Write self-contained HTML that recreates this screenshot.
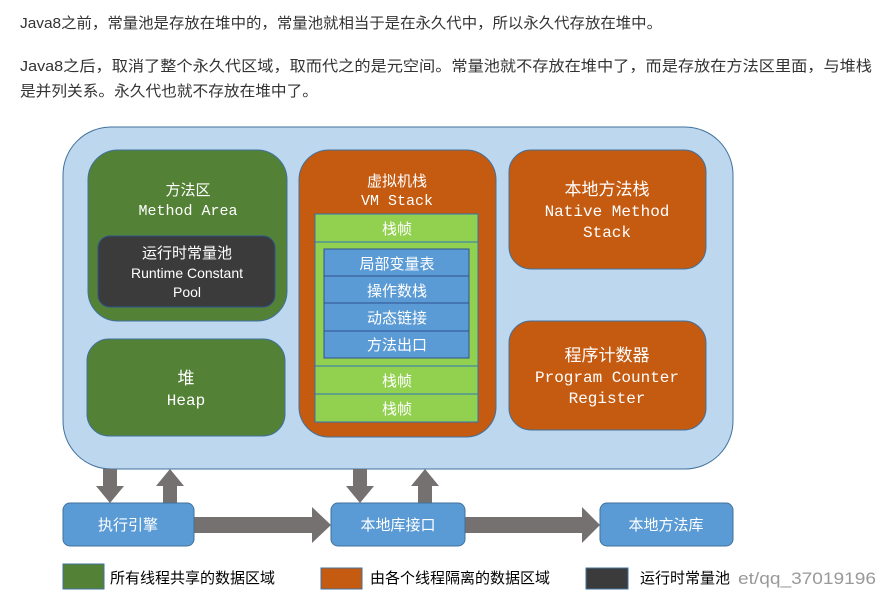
<!DOCTYPE html>
<html><head><meta charset="utf-8"><style>
html,body{margin:0;padding:0;background:#fff;width:887px;height:598px;overflow:hidden}
svg{display:block}
text{font-family:"Liberation Sans","Noto Sans CJK SC",sans-serif}
.m{font-family:"Liberation Mono","Noto Sans CJK SC",monospace}
</style></head><body>
<svg width="887" height="598" viewBox="0 0 887 598">
<g fill="#333" font-size="15">
<text x="20" y="28" textLength="642" lengthAdjust="spacingAndGlyphs">Java8之前，常量池是存放在堆中的，常量池就相当于是在永久代中，所以永久代存放在堆中。</text>
<text x="20" y="71" textLength="852" lengthAdjust="spacingAndGlyphs">Java8之后，取消了整个永久代区域，取而代之的是元空间。常量池就不存放在堆中了，而是存放在方法区里面，与堆栈</text>
<text x="20" y="96" textLength="298" lengthAdjust="spacingAndGlyphs">是并列关系。永久代也就不存放在堆中了。</text>
</g>
<rect x="63" y="127" width="670" height="342" rx="48" fill="#bdd7ee" stroke="#41719c" stroke-width="1"/>
<rect x="88" y="150" width="199" height="171" rx="30" fill="#538135" stroke="#41719c"/>
<rect x="98" y="236" width="177" height="71" rx="12" fill="#3b3b3b" stroke="#2f528f"/>
<rect x="87" y="339" width="198" height="97" rx="22" fill="#538135" stroke="#41719c"/>
<rect x="299" y="150" width="197" height="287" rx="30" fill="#c55a11" stroke="#41719c"/>
<rect x="509" y="150" width="197" height="119" rx="22" fill="#c55a11" stroke="#41719c"/>
<rect x="509" y="321" width="197" height="109" rx="22" fill="#c55a11" stroke="#41719c"/>
<rect x="315" y="214" width="163" height="208" fill="#92d050" stroke="#2f73b8"/>
<line x1="315" y1="242" x2="478" y2="242" stroke="#2f73b8"/>
<line x1="315" y1="366" x2="478" y2="366" stroke="#2f73b8"/>
<line x1="315" y1="394" x2="478" y2="394" stroke="#2f73b8"/>
<rect x="324" y="249" width="145" height="109" fill="#5b9bd5" stroke="#2f528f"/>
<g stroke="#2f528f"><line x1="324" y1="276" x2="469" y2="276"/><line x1="324" y1="303" x2="469" y2="303"/><line x1="324" y1="331" x2="469" y2="331"/></g>
<g fill="#fff" text-anchor="middle">
<text x="188" y="195" font-size="15">方法区</text>
<text class="m" x="188" y="215" font-size="15">Method Area</text>
<text x="187" y="258" font-size="15">运行时常量池</text>
<text x="187" y="278" font-size="14">Runtime Constant</text>
<text x="187" y="297" font-size="14">Pool</text>
<text x="186" y="384" font-size="17">堆</text>
<text class="m" x="186" y="405" font-size="16">Heap</text>
<text x="397" y="186" font-size="15">虚拟机栈</text>
<text class="m" x="397" y="205" font-size="15">VM Stack</text>
<text x="397" y="234" font-size="15">栈帧</text>
<text x="397" y="269" font-size="15">局部变量表</text>
<text x="397" y="296" font-size="15">操作数栈</text>
<text x="397" y="323" font-size="15">动态链接</text>
<text x="397" y="350" font-size="15">方法出口</text>
<text x="397" y="386" font-size="15">栈帧</text>
<text x="397" y="414" font-size="15">栈帧</text>
<text x="607" y="195" font-size="17">本地方法栈</text>
<text class="m" x="607" y="216" font-size="16">Native Method</text>
<text class="m" x="607" y="237" font-size="16">Stack</text>
<text x="607" y="361" font-size="17">程序计数器</text>
<text class="m" x="607" y="382" font-size="16">Program Counter</text>
<text class="m" x="607" y="403" font-size="16">Register</text>
</g>
<g fill="#767171">
<polygon points="103,469 117,469 117,486 124,486 110,503 96,486 103,486"/>
<polygon points="163,503 177,503 177,486 184,486 170,469 156,486 163,486"/>
<polygon points="353,469 367,469 367,486 374,486 360,503 346,486 353,486"/>
<polygon points="418,503 432,503 432,486 439,486 425,469 411,486 418,486"/>
<polygon points="194,517 312,517 312,507 331,525 312,543 312,533 194,533"/>
<polygon points="465,517 582,517 582,507 600,525 582,543 582,533 465,533"/>
</g>
<rect x="63" y="503" width="131" height="43" rx="7" fill="#5b9bd5" stroke="#41719c"/>
<rect x="331" y="503" width="134" height="43" rx="7" fill="#5b9bd5" stroke="#41719c"/>
<rect x="600" y="503" width="133" height="43" rx="7" fill="#5b9bd5" stroke="#41719c"/>
<g fill="#fff" text-anchor="middle" font-size="15">
<text x="128" y="530">执行引擎</text>
<text x="398" y="530">本地库接口</text>
<text x="666" y="530">本地方法库</text>
</g>
<rect x="63" y="564" width="41" height="25" fill="#538135" stroke="#41719c"/>
<rect x="321" y="568" width="41" height="21" fill="#c55a11" stroke="#41719c"/>
<rect x="586" y="568" width="42" height="21" fill="#3b3b3b" stroke="#41719c"/>
<g fill="#000" font-size="15">
<text x="110" y="583">所有线程共享的数据区域</text>
<text x="370" y="583">由各个线程隔离的数据区域</text>
<text x="640" y="583">运行时常量池</text>
</g>
<text x="738" y="584" font-size="17" fill="#999" font-family="Liberation Serif,serif" textLength="138" lengthAdjust="spacingAndGlyphs">et/qq_37019196</text>
</svg>
</body></html>
